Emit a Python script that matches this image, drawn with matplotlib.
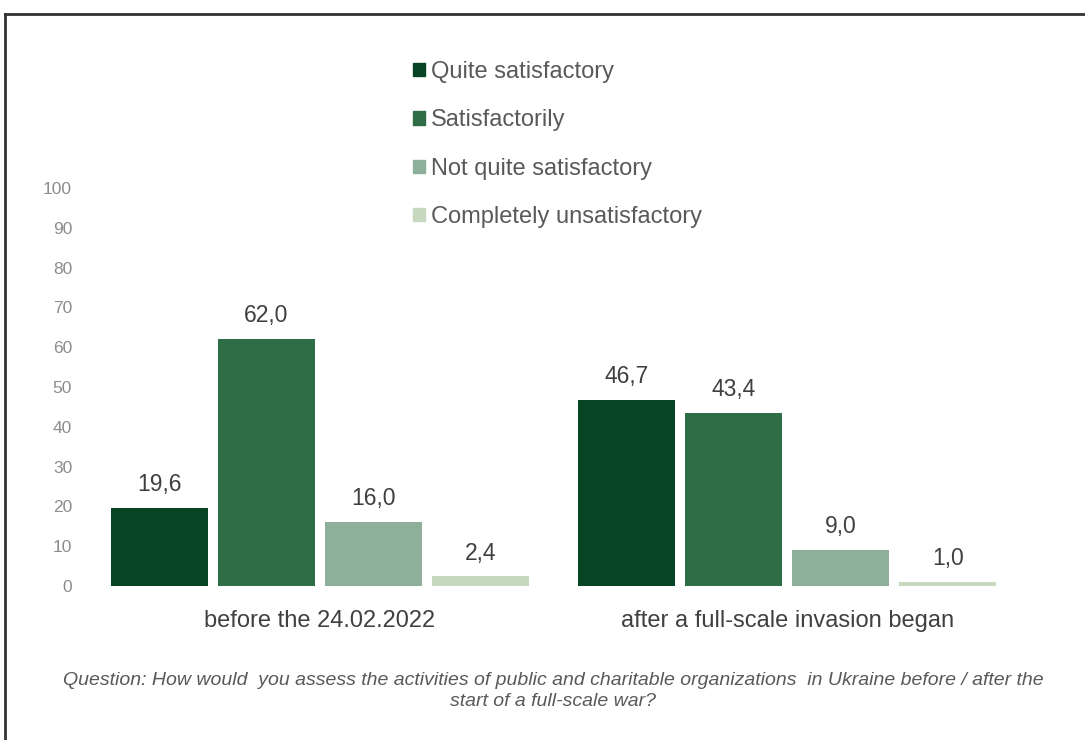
import matplotlib.pyplot as plt
from matplotlib.lines import Line2D
import numpy as np

# data
categories = ['before the 24.02.2022', 'after a full-scale invasion began']
series_names = ['Quite satisfactory', 'Satisfactorily', 'Not quite satisfactory', 'Completely unsatisfactory']
values = [
    [19.6, 46.7],
    [62.0, 43.4],
    [16.0, 9.0],
    [2.4, 1.0],
]
colors = ['#064424', '#2e6d46', '#8eb09b', '#c6d9bf']
y_ticks = [0, 10, 20, 30, 40, 50, 60, 70, 80, 90, 100]
caption = ('Question: How would  you assess the activities of public and charitable organizations  in Ukraine before / after the\n'
           'start of a full-scale war?')

plt.rcParams['font.family'] = ['Liberation Sans', 'DejaVu Sans']

fig = plt.figure(figsize=(10.85, 7.4), dpi=100)
ax = fig.add_axes([86 / 1085, 154 / 740, 935 / 1085, 398 / 740])

x = np.arange(len(categories))
step = 0.229
width = 0.2077
for i, (name, vals) in enumerate(zip(series_names, values)):
    pos = x + (i - 1.5) * step
    rects = ax.bar(pos, vals, width=width, color=colors[i], label=name)
    for r, v in zip(rects, vals):
        ax.text(r.get_x() + r.get_width() / 2, v + 3.0, ('%.1f' % v).replace('.', ','),
                ha='center', va='bottom', fontsize=16.5, color='#404040')

ax.set_xlim(-0.5, 1.5)
ax.set_ylim(0, 100)
ax.set_yticks(y_ticks)
ax.set_xticks(x)
ax.set_xticklabels(categories, fontsize=17, color='#404040')
ax.tick_params(axis='y', length=0, labelsize=12.5, labelcolor='#8c8c8c', pad=10)
ax.tick_params(axis='x', length=0, pad=17)
for s in ax.spines.values():
    s.set_visible(False)

handles = [plt.Rectangle((0, 0), 1, 1, color=c) for c in colors]
leg = fig.legend(handles, series_names, loc='upper left', bbox_to_anchor=(401 / 1085, 1 - 49 / 740),
                 frameon=False, fontsize=17, labelspacing=1.12, handlelength=0.5, handleheight=0.5,
                 handletextpad=0.25, borderpad=0)
for t in leg.get_texts():
    t.set_color('#595959')

fig.text(553 / 1085, 1 - 691 / 740, caption, ha='center', va='center', fontsize=14, style='italic',
         color='#595959', linespacing=1.3)

# outer frame: top and left edge
fig.add_artist(Line2D([5 / 1085, 1], [1 - 14 / 740, 1 - 14 / 740], transform=fig.transFigure, color='#333333', lw=2))
fig.add_artist(Line2D([5 / 1085, 5 / 1085], [0, 1 - 14 / 740], transform=fig.transFigure, color='#333333', lw=2))

plt.savefig('out.png', dpi=100)
plt.close()
